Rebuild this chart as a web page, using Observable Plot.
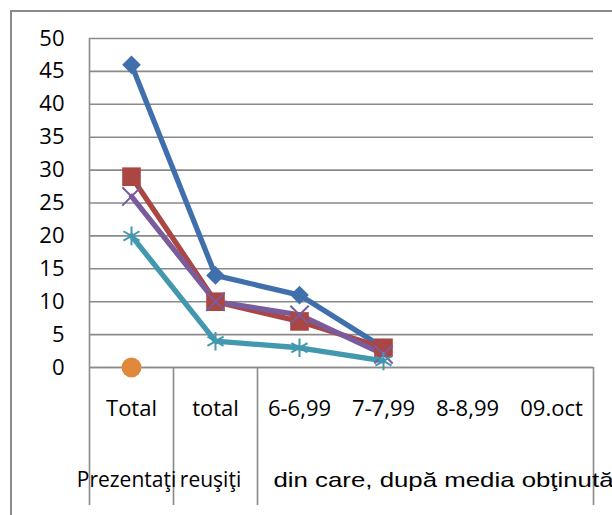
<!DOCTYPE html>
<html>
<head>
<meta charset="utf-8">
<script src="https://cdn.jsdelivr.net/npm/d3@7"></script>
<script src="https://cdn.jsdelivr.net/npm/@observablehq/plot@0.6"></script>
<style>
  html, body { margin: 0; padding: 0; background: #fff; }
  #wrap { position: relative; width: 612px; height: 515px; overflow: hidden; }
  #frame { position: absolute; left: 10px; top: 10px; right: -5px; bottom: -5px;
           border: 2px solid #8a8a8a; box-sizing: border-box; pointer-events: none; }
  #chart { position: absolute; left: 0; top: 0; }
</style>
</head>
<body>
<div id="wrap"><div id="chart"></div><div id="frame"></div></div>
<script>
// ---- data ----
const categories = ["Total", "total", "6-6,99", "7-7,99", "8-8,99", "09.oct"];
const yTicks = [0, 5, 10, 15, 20, 25, 30, 35, 40, 45, 50];
const seriesBlue   = [46, 14, 11, 3];
const seriesRed    = [29, 10, 7, 3];
const seriesPurple = [26, 10, 8, 2];
const seriesTeal   = [20, 4, 3, 1];
const seriesOrange = [0];
const groupLabels = ["Prezentaţi", "reuşiţi", "din care, după media obţinută"];
const groupFrom   = [0, 1, 2];
const groupTo     = [0, 1, 5];

const seriesDefs = [
  {name: "s1", values: seriesBlue,   color: "#4070AC", symbol: "diamond2", r: 8.4,  filled: true},
  {name: "s2", values: seriesRed,    color: "#AA4643", symbol: "square",   r: 10.5, filled: true},
  {name: "s3", values: seriesPurple, color: "#7A5C9C", symbol: "times",    r: 8.4,  filled: false},
  {name: "s4", values: seriesTeal,   color: "#4198AF", symbol: "asterisk", r: 8.8,  filled: false},
  {name: "s5", values: seriesOrange, color: "#E0883C", symbol: "circle",   r: 10,   filled: true}
];

const rows = s => s.values.map((v, i) => ({series: s.name, i, v}));

// group boundaries (between categories)
const boundaries = Array.from(new Set(groupFrom.map(f => f - 0.5).concat(groupTo.map(t => t + 0.5))));
const groups = groupLabels.map((label, k) => ({label, from: groupFrom[k], to: groupTo[k]}));

const marks = [
  Plot.gridY(yTicks, {stroke: "#8a8a8a", strokeOpacity: 1, strokeWidth: 1.6}),
  Plot.ruleX([-0.5], {y1: 0, y2: 50, stroke: "#8a8a8a", strokeWidth: 1.6}),
  Plot.axisY({ticks: yTicks, tickSize: 0, tickPadding: 25, fontSize: 22, fontFamily: "Open Sans", fill: "#000", label: null}),
  // category separators spanning both label levels
  Plot.axisX({ticks: boundaries, tickSize: 138, tickFormat: () => "", stroke: "#8a8a8a", strokeWidth: 1.6, strokeOpacity: 1, label: null}),
  // category labels
  Plot.axisX({ticks: d3.range(categories.length), tickSize: 0, tickPadding: 33, tickFormat: i => categories[i],
              fontSize: 22, fontFamily: "Open Sans", fill: "#000", label: null}),
  Plot.ruleY([0], {stroke: "#8a8a8a", strokeWidth: 1.6}),
  // group labels (second level)
  Plot.text(groups.filter(g => g.from === g.to), {
    x: g => g.from, text: "label", frameAnchor: "bottom", dy: 113, dx: -5, lineAnchor: "middle",
    fontSize: 21, fontFamily: "Open Sans", fill: "#000"
  }),
  Plot.text(groups.filter(g => g.from !== g.to), {
    x: g => g.from, text: "label", frameAnchor: "bottom", dy: 113, dx: -26, lineAnchor: "middle",
    textAnchor: "start", fontSize: 21, fontFamily: "Liberation Sans, Arial, sans-serif", fill: "#000"
  })
];

for (const s of seriesDefs) {
  const data = rows(s);
  if (data.length > 1) {
    marks.push(Plot.line(data, {x: "i", y: "v", stroke: s.color, strokeWidth: 5.3, strokeLinejoin: "round", strokeLinecap: "round"}));
  }
}
for (const s of seriesDefs) {
  const data = rows(s);
  marks.push(Plot.dot(data, s.filled
    ? {x: "i", y: "v", symbol: () => s.symbol, r: s.r, fill: s.color, stroke: "none"}
    : {x: "i", y: "v", symbol: () => s.symbol, r: s.r, stroke: s.color, strokeWidth: 2, fill: "none"}));
}

const chart = Plot.plot({
  width: 612,
  height: 515,
  marginLeft: 89,
  marginRight: 19,
  marginTop: 38,
  marginBottom: 148,
  style: {fontFamily: "Open Sans", fontSize: "22px", background: "transparent", color: "#000", overflow: "visible"},
  x: {type: "linear", domain: [-0.5, categories.length - 0.5], axis: null},
  y: {domain: [0, 50], axis: null},
  symbol: {type: "identity"},
  marks
});

// stretch the wide group label horizontally, as in the reference
d3.select(chart).selectAll("text").filter(function() {
  return this.textContent.startsWith("din care");
}).attr("textLength", 340).attr("lengthAdjust", "spacingAndGlyphs");

document.getElementById("chart").appendChild(chart);
</script>
</body>
</html>
